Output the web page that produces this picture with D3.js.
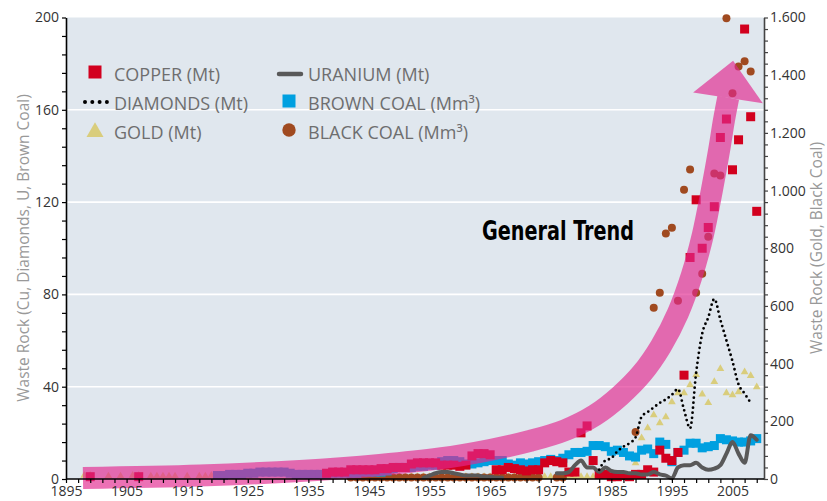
<!DOCTYPE html>
<html>
<head>
<meta charset="utf-8">
<script src="https://cdn.jsdelivr.net/npm/d3@7"></script>
<style>
  body { margin: 0; background: #fff; }
  svg { display: block; font-family: 'Open Sans', sans-serif; }
</style>
</head>
<body>
<svg id="chart" width="827" height="501"></svg>
<script>
// waste rock, left axis (Mt / Mm3)
const copper = [
  [1899, 1], [1907, 1],
  [1938, 2.5], [1939, 3], [1940, 3], [1941, 3], [1942, 4], [1943, 4], [1944, 4], [1945, 4],
  [1946, 4], [1947, 4.5], [1948, 4.5], [1949, 5], [1950, 5], [1951, 5], [1952, 6.5], [1953, 7],
  [1954, 7], [1955, 7], [1956, 7], [1957, 6], [1958, 6], [1959, 6], [1960, 5.5], [1961, 6],
  [1962, 10], [1963, 11], [1964, 11], [1965, 10.5], [1966, 4], [1967, 4], [1968, 5], [1969, 4.5],
  [1970, 4], [1971, 3.5], [1972, 4], [1973, 4], [1974, 7], [1975, 8], [1976, 7.5], [1977, 7],
  [1978, 3], [1979, 3], [1980, 20], [1981, 23], [1982, 8], [1983, 2], [1984, 2], [1985, 1],
  [1986, 1], [1987, 1.5], [1988, 1], [1989, 2], [1990, 2], [1991, 4], [1992, 3], [1993, 12.5],
  [1994, 9], [1995, 8], [1996, 11.5], [1997, 45], [1998, 96], [1999, 121], [2000, 100],
  [2001, 109], [2002, 118], [2003, 148], [2004, 156], [2005, 134], [2006, 147], [2007, 195],
  [2008, 157], [2009, 116],
];

const brownCoal = [
  [1920, 1.5], [1921, 1.5], [1922, 2], [1923, 2], [1924, 2], [1925, 2.5], [1926, 2.5], [1927, 3],
  [1928, 3], [1929, 3], [1930, 3], [1931, 3], [1932, 2.5], [1933, 2], [1934, 2], [1935, 2],
  [1936, 2], [1937, 2], [1938, 2], [1939, 2.5], [1940, 2.5], [1941, 2.5], [1942, 2.5], [1943, 2.5],
  [1944, 3], [1945, 3], [1946, 3], [1947, 3], [1948, 3.5], [1949, 4.5], [1950, 5], [1951, 5],
  [1952, 5], [1953, 5.5], [1954, 5.5], [1955, 6], [1956, 6], [1957, 7.5], [1958, 8], [1959, 8],
  [1960, 7.5], [1961, 6.5], [1962, 6.5], [1963, 7], [1964, 7.5], [1965, 8], [1966, 8], [1967, 8],
  [1968, 6.5], [1969, 6], [1970, 7], [1971, 6.5], [1972, 7], [1973, 7.5], [1974, 8], [1975, 8.5],
  [1976, 8], [1977, 9], [1978, 10.5], [1979, 11.5], [1980, 11.5], [1981, 12], [1982, 14.5],
  [1983, 14.5], [1984, 14], [1985, 12], [1986, 12.5], [1987, 11.5], [1988, 10], [1989, 9.5],
  [1990, 12.5], [1991, 13], [1992, 11], [1993, 16], [1994, 15], [1995, 7.5], [1996, 11.5],
  [1997, 12.5], [1998, 15.5], [1999, 15.5], [2000, 13.5], [2001, 14], [2002, 14.5], [2003, 17.5],
  [2004, 17], [2005, 16.5], [2006, 16], [2007, 16], [2008, 16.5], [2009, 17.5],
];

const uranium = [
  [1954, 0.5], [1955, 1.5], [1956, 2.5], [1957, 3], [1958, 3], [1959, 2.5], [1960, 2], [1961, 1.5],
  [1962, 1.5], [1963, 1.5], [1964, 1], [1965, 1], [1966, 0.5], [1967, 0.5], [1968, null],
  [1976, 2.5], [1977, 2.5], [1978, 3], [1979, 6], [1980, 8], [1981, 5], [1982, 5], [1983, 3],
  [1984, 5], [1985, 3.5], [1986, 3], [1987, 3], [1988, 2.5], [1989, 2.5], [1990, 2], [1991, 2],
  [1992, 3], [1993, 2], [1994, 1.5], [1995, 0.3], [1996, 5], [1997, 6], [1998, 6], [1999, 7],
  [2000, 5], [2001, 4], [2002, 4.5], [2003, 6], [2004, 11], [2005, 16], [2006, 11], [2007, 7],
  [2008, 19], [2009, 17],
];

const diamonds = [
  [1983, 4], [1984, 8], [1985, 9], [1986, 12], [1987, 14], [1988, 15.5], [1989, 18], [1990, 27],
  [1991, 29], [1992, 31], [1993, 33], [1994, 34.5], [1995, 36.5], [1996, 39], [1997, 30],
  [1998, 22], [1999, 46], [2000, 63], [2001, 70], [2002, 78], [2003, 69], [2004, 60], [2005, 51],
  [2006, 41], [2007, 37], [2008, 33],
];

// waste rock, right axis
const gold = [
  [1898, 12], [1899, 12], [1902, 10], [1904, 10], [1906, 12], [1907, 12], [1909, 10], [1910, 10],
  [1911, 10], [1912, 10], [1913, 10], [1915, 10], [1917, 10], [1918, 10], [1919, 12], [1920, 12],
  [1921, 12], [1922, 12], [1923, 12], [1924, 12], [1925, 10], [1935, 10], [1936, 10], [1937, 12],
  [1938, 12], [1939, 12], [1940, 12], [1941, 12], [1942, 8], [1943, 8], [1944, 8], [1945, 8],
  [1946, 8], [1947, 8], [1948, 8], [1949, 8], [1950, 8], [1951, 8], [1952, 8], [1953, 8],
  [1954, 8], [1955, 8], [1956, 8], [1957, 8], [1958, 8], [1959, 8], [1960, 8], [1961, 8],
  [1962, 8], [1963, 8], [1964, 8], [1965, 8], [1966, 8], [1967, 8], [1968, 8], [1969, 8],
  [1970, 8], [1971, 8], [1972, 8], [1973, 8], [1974, 8], [1975, 8], [1976, 8], [1977, 8],
  [1978, 8], [1979, 8], [1980, 8], [1981, 8], [1982, 8], [1983, 8], [1984, 8], [1985, 8],
  [1986, 8], [1987, 8], [1988, 8], [1989, 55], [1990, 142], [1991, 177], [1992, 222], [1993, 194],
  [1994, 215], [1995, 267], [1996, 298], [1997, 298], [1998, 326], [1999, 361], [2000, 294],
  [2001, 264], [2002, 337], [2003, 382], [2004, 298], [2005, 291], [2006, 302], [2007, 371],
  [2008, 358], [2009, 319],
];

const blackCoal = [
  [1942, 5], [1943, 5], [1944, 5], [1945, 5], [1946, 5], [1947, 5], [1948, 5], [1949, 5],
  [1950, 5], [1951, 5], [1952, 5], [1953, 5], [1954, 5], [1955, 5], [1956, 5], [1957, 5],
  [1958, 5], [1959, 5], [1960, 5], [1961, 5], [1962, 5], [1963, 5], [1964, 5], [1965, 5],
  [1966, 5], [1967, 5], [1968, 5], [1969, 5], [1970, 5], [1971, 5], [1972, 5], [1973, 5],
  [1976, 5], [1977, 5],
  [1989, 163], [1992, 594], [1993, 646], [1994, 851], [1995, 871], [1996, 618], [1997, 1003],
  [1998, 1073], [1999, 646], [2000, 712], [2001, 840], [2002, 1059], [2003, 1052], [2004, 1597],
  [2005, 1337], [2006, 1430], [2007, 1448], [2008, 1413],
];

// trend arrow, in (year, left-axis value)
const trendShaft = [
  [1897.8, 0.43], [1917.1, 1.5], [1933.6, 3.5], [1946.8, 6.1], [1956.7, 8.9], [1965, 12.6],
  [1971.6, 16.5], [1977.4, 21.2], [1982.3, 27.7], [1986.4, 36], [1990.1, 45.9], [1993.2, 57.6],
  [1996, 71.9], [1998.3, 88.4], [2000.1, 105.7], [2001.6, 125.2], [2002.8, 142.6],
  [2003.6, 155.6], [2004.3, 165.3],
];
const trendHead = [[1998.5, 167.5], [2005.1, 181.3], [2010, 162.8]];

const xTicks = d3.range(1895, 2010, 2);
const leftTicks = d3.range(0, 201, 8);
const rightTicks = d3.range(0, 1601, 40);

const legendItems = [
  { key: 'copper', label: 'COPPER (Mt)' },
  { key: 'diamonds', label: 'DIAMONDS (Mt)' },
  { key: 'gold', label: 'GOLD (Mt)' },
  { key: 'uranium', label: 'URANIUM (Mt)' },
  { key: 'brown', label: 'BROWN COAL (Mm³)' },
  { key: 'black', label: 'BLACK COAL (Mm³)' },
];

const colors = {
  copper: '#d2001e',
  brown: '#00a0e0',
  gold: '#d9cd7c',
  black: '#a04a20',
  uranium: '#595959',
  diamonds: '#000',
  trend: '#e2288f',
  bg: '#e0e7ee',
};

const dim = { l: 66, r: 764, t: 17.5, b: 479 };

const svg = d3.select('#chart');

const x = d3.scaleLinear().domain([1895, 2010.2]).range([dim.l, dim.r]);
const yL = d3.scaleLinear().domain([0, 200]).range([dim.b, dim.t]);
const yR = d3.scaleLinear().domain([0, 1600]).range([dim.b, dim.t]);

svg.append('rect')
  .attr('x', dim.l)
  .attr('y', dim.t)
  .attr('width', dim.r - dim.l)
  .attr('height', dim.b - dim.t)
  .style('fill', colors.bg);

svg.append('g')
  .selectAll('line')
  .data([40, 80, 120, 160])
  .enter()
  .append('line')
  .attr('x1', dim.l)
  .attr('x2', dim.r)
  .attr('y1', (d) => yL(d))
  .attr('y2', (d) => yL(d))
  .style('stroke', '#fff')
  .style('stroke-width', 1.6);

// series
const triangle = d3.symbol().type(d3.symbolTriangle).size(26);
svg.append('g')
  .selectAll('path')
  .data(gold)
  .enter()
  .append('path')
  .attr('d', triangle)
  .attr('transform', (d) => `translate(${x(d[0])},${yR(d[1])})`)
  .style('fill', colors.gold);

svg.append('g')
  .selectAll('circle')
  .data(blackCoal)
  .enter()
  .append('circle')
  .attr('cx', (d) => x(d[0]))
  .attr('cy', (d) => yR(d[1]))
  .attr('r', 4)
  .style('fill', colors.black);

const sq = 9;
svg.append('g')
  .selectAll('rect')
  .data(brownCoal)
  .enter()
  .append('rect')
  .attr('x', (d) => x(d[0]) - sq / 2)
  .attr('y', (d) => yL(d[1]) - sq / 2)
  .attr('width', sq)
  .attr('height', sq)
  .style('fill', colors.brown);

svg.append('g')
  .selectAll('rect')
  .data(copper)
  .enter()
  .append('rect')
  .attr('x', (d) => x(d[0]) - sq / 2)
  .attr('y', (d) => yL(d[1]) - sq / 2)
  .attr('width', sq)
  .attr('height', sq)
  .style('fill', colors.copper);

const lineL = d3.line()
  .defined((d) => d[1] !== null)
  .x((d) => x(d[0]))
  .y((d) => yL(d[1]))
  .curve(d3.curveMonotoneX);

svg.append('path')
  .datum(uranium)
  .attr('d', lineL)
  .style('fill', 'none')
  .style('stroke', colors.uranium)
  .style('stroke-width', 4)
  .style('stroke-linejoin', 'round')
  .style('stroke-linecap', 'round');

svg.append('path')
  .datum(diamonds)
  .attr('d', lineL)
  .style('fill', 'none')
  .style('stroke', colors.diamonds)
  .style('stroke-width', 2.8)
  .style('stroke-dasharray', '0 5')
  .style('stroke-linecap', 'round');

// general trend arrow
const trend = svg.append('g').style('opacity', 0.66);
trend.append('path')
  .datum(trendShaft)
  .attr('d', d3.line().x((d) => x(d[0])).y((d) => yL(d[1])).curve(d3.curveCatmullRom))
  .style('fill', 'none')
  .style('stroke', colors.trend)
  .style('stroke-width', 22);
trend.append('path')
  .datum(trendHead)
  .attr('d', (d) => `M${d.map((p) => `${x(p[0])},${yL(p[1])}`).join('L')}Z`)
  .style('fill', colors.trend);

// axes
const styleAxis = (g, color) => {
  g.select('.domain').style('stroke', color).style('stroke-width', 1.6);
  g.selectAll('.tick line').style('stroke', color).style('stroke-width', 1.2);
  g.selectAll('.tick text')
    .style('font-size', '14px')
    .style('fill', '#333')
    .style('font-family', "'Open Sans', sans-serif");
};

svg.append('g')
  .attr('transform', `translate(${dim.l},0)`)
  .call(d3.axisLeft(yL).tickValues(leftTicks).tickSize(4).tickSizeOuter(0).tickPadding(3)
    .tickFormat((d) => (d % 40 === 0 ? d : '')))
  .call((g) => styleAxis(g, '#000'));

svg.append('g')
  .attr('transform', `translate(${dim.r},0)`)
  .call(d3.axisRight(yR).tickValues(rightTicks).tickSize(4).tickSizeOuter(0).tickPadding(2)
    .tickFormat((d) => (d % 200 === 0 ? d3.format(',')(d).replace(',', '.') : '')))
  .call((g) => styleAxis(g, '#444'));

svg.append('g')
  .attr('transform', `translate(0,${dim.b})`)
  .call(d3.axisBottom(x).tickValues(xTicks).tickSize(4).tickSizeOuter(0).tickPadding(3)
    .tickFormat((d) => ((d - 1895) % 10 === 0 ? d : '')))
  .call((g) => styleAxis(g, '#000'))
  .call((g) => g.select('.domain').attr('d', `M${dim.l},0H${dim.r}`));

// axis titles
svg.append('text')
  .attr('transform', 'translate(29, 248) rotate(-90)')
  .style('text-anchor', 'middle')
  .style('font-size', '15.5px')
  .style('fill', '#999')
  .text('Waste Rock (Cu, Diamonds, U, Brown Coal)');

svg.append('text')
  .attr('transform', 'translate(822, 248) rotate(-90)')
  .style('text-anchor', 'middle')
  .style('font-size', '15.5px')
  .style('fill', '#999')
  .text('Waste Rock (Gold, Black Coal)');

svg.append('text')
  .attr('x', 482)
  .attr('y', 240)
  .attr('textLength', 152)
  .attr('lengthAdjust', 'spacingAndGlyphs')
  .style('font-family', "'DejaVu Sans Condensed', 'DejaVu Sans', sans-serif")
  .style('font-weight', 700)
  .style('font-size', '26px')
  .style('fill', '#000')
  .text('General Trend');

// legend
const legend = svg.append('g').attr('id', 'legend');
const rows = [72, 101, 130];
const cols = [95, 289];

legendItems.forEach((item, i) => {
  const cx = cols[Math.floor(i / 3)];
  const cy = rows[i % 3];
  const g = legend.append('g').style('transform', `translate(${cx}px, ${cy}px)`);

  if (item.key === 'copper' || item.key === 'brown') {
    g.append('rect')
      .attr('x', -6.5).attr('y', -6.5)
      .attr('width', 13).attr('height', 13)
      .style('fill', colors[item.key]);
  } else if (item.key === 'gold') {
    g.append('path')
      .attr('d', d3.symbol().type(d3.symbolTriangle).size(125)())
      .attr('transform', 'translate(0, 2)')
      .style('fill', colors.gold);
  } else if (item.key === 'black') {
    g.append('circle').attr('r', 6.7).style('fill', colors.black);
  } else if (item.key === 'uranium') {
    g.append('line')
      .attr('x1', -10).attr('x2', 12).attr('y1', 2).attr('y2', 2)
      .style('stroke', colors.uranium)
      .style('stroke-width', 4.5)
      .style('stroke-linecap', 'round');
  } else {
    g.selectAll('circle')
      .data([0, 1, 2, 3])
      .enter()
      .append('circle')
      .attr('cx', (d) => -10 + d * 7.3)
      .attr('cy', 1)
      .attr('r', 2)
      .style('fill', '#000');
  }

  g.append('text')
    .attr('x', 19)
    .attr('y', 8.5)
    .style('font-size', '18px')
    .style('fill', '#6e6e6e')
    .text(item.label);
});
</script>
</body>
</html>
